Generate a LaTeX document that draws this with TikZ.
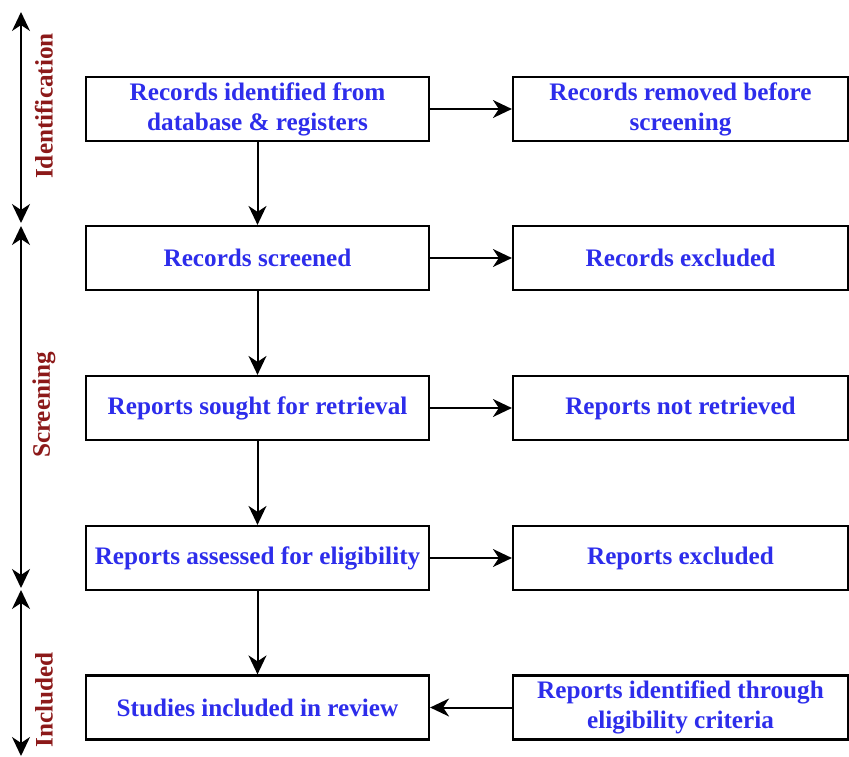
\documentclass[tikz,border=0pt]{standalone}
\usepackage{fontspec}
\setmainfont{Liberation Serif}
\usetikzlibrary{arrows.meta}
\definecolor{txtblue}{RGB}{45,45,235}
\definecolor{lblred}{RGB}{140,25,25}
\tikzset{
  box/.style={draw=black, line width=2.2pt, minimum height=64pt, align=center, inner sep=2pt,
     font=\fontsize{25.2}{30}\selectfont\bfseries, text=txtblue},
  lbox/.style={box, minimum width=343pt},
  rbox/.style={box, minimum width=335pt},
  tip/.style={},
  arr/.style={line width=2pt, -{Stealth[length=19pt,width=18pt,inset=6pt]}},
  darr/.style={line width=2pt, {Stealth[length=19pt,width=18pt,inset=6pt]}-{Stealth[length=19pt,width=18pt,inset=6pt]}},
  phase/.style={rotate=90, font=\fontsize{25.2}{28}\selectfont\bfseries, text=lblred}
}
\begin{document}
\begin{tikzpicture}[x=1pt,y=-1pt]
\useasboundingbox (0,0) rectangle (849,756);
\node[lbox] (l1) at (257.5,109) {Records identified from\\database \& registers};
\node[lbox] (l2) at (257.5,258) {Records screened};
\node[lbox] (l3) at (257.5,408) {Reports sought for retrieval};
\node[lbox] (l4) at (257.5,558) {Reports assessed for eligibility};
\node[lbox] (l5) at (257.5,707.5) {Studies included in review};
\node[rbox] (r1) at (680.5,109) {Records removed before\\screening};
\node[rbox] (r2) at (680.5,258) {Records excluded};
\node[rbox] (r3) at (680.5,408) {Reports not retrieved};
\node[rbox] (r4) at (680.5,558) {Reports excluded};
\node[rbox] (r5) at (680.5,707.5) {Reports identified through\\eligibility criteria};
\draw[arr] (l1) -- (l2);
\draw[arr] (l2) -- (l3);
\draw[arr] (l3) -- (l4);
\draw[arr] (l4) -- (l5);
\draw[arr] (l1) -- (r1);
\draw[arr] (l2) -- (r2);
\draw[arr] (l3) -- (r3);
\draw[arr] (l4) -- (r4);
\draw[arr] (r5) -- (l5);
\coordinate (a1) at (21,12);
\coordinate (a2) at (21,223);
\coordinate (b1) at (21,226);
\coordinate (b2) at (21,588);
\coordinate (c1) at (21,590);
\coordinate (c2) at (21,756);
\draw[darr] (a1) -- (a2);
\draw[darr] (b1) -- (b2);
\draw[darr] (c1) -- (c2);
\node[phase] (p1) at (44,106) {Identification};
\node[phase] (p2) at (44,405) {Screening};
\node[phase] (p3) at (44,700) {Included};
\end{tikzpicture}
\end{document}
